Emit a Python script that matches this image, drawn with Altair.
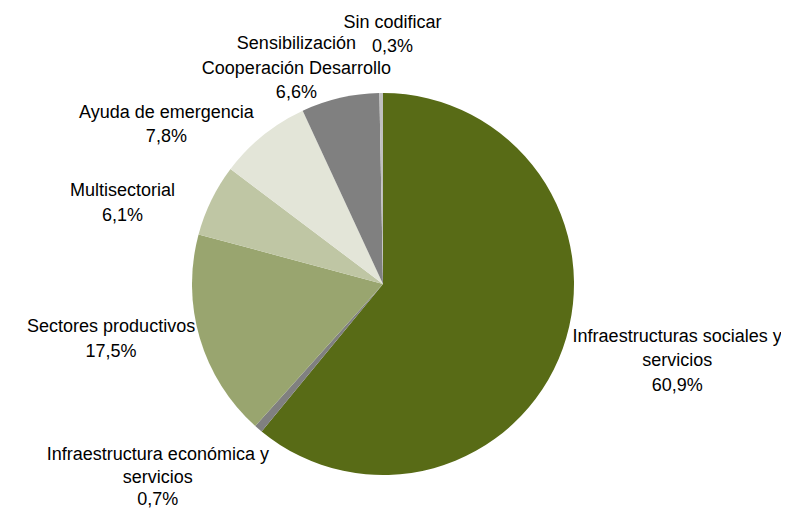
import altair as alt
import pandas as pd

categories = [
    "Infraestructuras sociales y servicios",
    "Infraestructura económica y servicios",
    "Sectores productivos",
    "Multisectorial",
    "Ayuda de emergencia",
    "Sensibilización Cooperación Desarrollo",
    "Sin codificar",
]
label_lines = [
    "Infraestructuras sociales y\nservicios",
    "Infraestructura económica y\nservicios",
    "Sectores productivos",
    "Multisectorial",
    "Ayuda de emergencia",
    "Sensibilización\nCooperación Desarrollo",
    "Sin codificar",
]
values = [60.9, 0.7, 17.5, 6.1, 7.8, 6.6, 0.3]
colors = ["#586B16", "#808080", "#99A56F", "#BFC6A4", "#E3E5D8", "#808080", "#C0C0C0"]

# label nudges (layout, px) relative to mid-angle point at radius 270
label_radius = 270
label_lh = [24.5, 22.5, 24.5, 24.5, 24.5, 24.5, 24.5]
label_dx = [40, -49, -13, -18, -47, -26, 12]
label_dy = [-14, -11, -21, 38, 51, 48, 21]

labels = [f"{l}\n{v:.1f}".replace(".", ",") + "%" for l, v in zip(label_lines, values)]

df = pd.DataFrame({
    "idx": list(range(len(categories))),
    "cat": categories,
    "value": values,
    "label": labels,
})

base = alt.Chart(df).encode(
    theta=alt.Theta("value:Q", stack=True),
    order=alt.Order("idx:Q", sort="ascending"),
)

pie = base.mark_arc(outerRadius=191).encode(
    color=alt.Color("cat:N", scale=alt.Scale(domain=categories, range=colors), legend=None),
)

layers = [pie]
for i in range(len(categories)):
    n_lines = labels[i].count("\n") + 1
    t = base.transform_calculate(
        txt=f"datum.idx === {i} ? datum.label : ''"
    ).mark_text(
        radius=label_radius, dx=label_dx[i],
        dy=label_dy[i] - (n_lines - 1) * label_lh[i] / 2,
        font="Liberation Sans", fontSize=18, lineHeight=label_lh[i],
        lineBreak="\n", align="center", baseline="middle", color="#000000",
    ).encode(
        text="txt:N",
        detail="cat:N",
    )
    layers.append(t)

chart = alt.layer(*layers).properties(
    width=750, height=456,
    autosize=alt.AutoSizeParams(type="none"),
    padding={"left": 0, "top": 48, "right": 23, "bottom": 0},
    background="white",
).configure_view(stroke=None)

chart.save("out.html", embed_options={"renderer": "svg", "actions": False})
